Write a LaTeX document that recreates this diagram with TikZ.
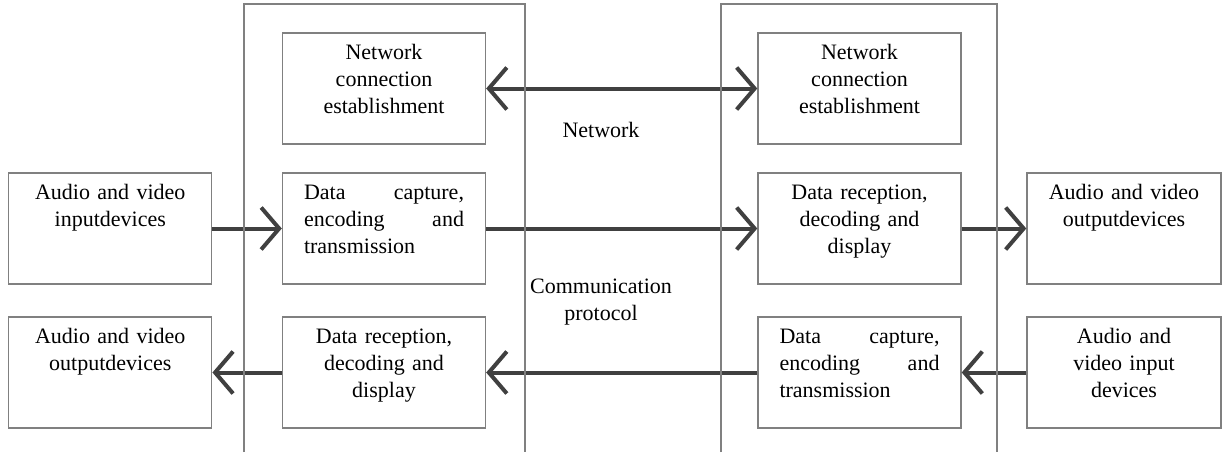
\documentclass[tikz,border=0pt]{standalone}
\usepackage{fontspec}
\setmainfont{Liberation Serif}
\usetikzlibrary{arrows.meta, positioning}
\definecolor{edgegray}{RGB}{128,128,128}
\definecolor{arrowgray}{RGB}{64,64,64}

\begin{document}
\begin{tikzpicture}[
    x=0.5pt, y=-0.5pt,
    barb/.tip={Straight Barb[length=9pt, width=21pt]},
    box/.style={rectangle, draw=edgegray, line width=0.7pt, text width=80pt, inner xsep=10.75pt, inner ysep=0pt, text height=13.3pt, text depth=42.2pt, align=center, font=\fontsize{11}{13.5}\selectfont},
    narrow/.style={text width=75.5pt},
    netlabel/.style={align=center, font=\fontsize{11}{13.5}\selectfont},
    flow/.style={draw=arrowgray, line width=2pt},
    panel/.style={draw=edgegray, line width=0.7pt}
]
\useasboundingbox (0,0) rectangle (1223,452);

% left terminal
\node[box] (netL) at (384,88.5) {Network\\connection\\establishment};
\node[box, align=left] (capL) at (384,228.5) {Data\hfill capture,\\encoding\hfill and\\transmission};
\node[box] (recL) at (384,372.5) {Data reception,\\decoding and\\display};
\node[box] (inL) at (110.25,228.5) {Audio and video\\inputdevices};
\node[box] (outL) at (110.25,372.5) {Audio and video\\outputdevices};

% right terminal
\node[box] (netR) at (859.5,88.5) {Network\\connection\\establishment};
\node[box] (recR) at (859.5,228.5) {Data reception,\\decoding and\\display};
\node[box, align=left] (capR) at (859.5,372.5) {Data\hfill capture,\\encoding\hfill and\\transmission};
\node[box, narrow] (outR) at (1124,228.5) {Audio and video\\outputdevices};
\node[box, narrow] (inR) at (1124,372.5) {Audio and\\video input\\devices};

\node[netlabel] (net) at (601,130) {Network};
\node[netlabel] (proto) at (601,302) {Communication\\protocol};

\draw[flow, barb-barb] (netL) -- (netR);
\draw[flow, -barb] (inL) -- (capL);
\draw[flow, -barb] (capL) -- (recR);
\draw[flow, -barb] (recR) -- (outR);
\draw[flow, -barb] (inR) -- (capR);
\draw[flow, -barb] (capR) -- (recL);
\draw[flow, -barb] (recL) -- (outL);

\draw[panel] (244,452) -- (244,4) -- (525,4) -- (525,452);
\draw[panel] (721,452) -- (721,4) -- (997,4) -- (997,452);

\end{tikzpicture}
\end{document}
